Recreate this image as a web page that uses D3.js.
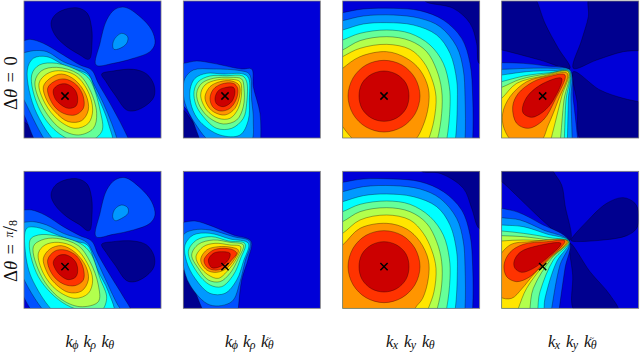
<!DOCTYPE html>
<html>
<head>
<meta charset="utf-8">
<script src="https://cdn.jsdelivr.net/npm/d3@7"></script>
<style>
  html, body { margin: 0; padding: 0; background: #fff; }
  svg { display: block; }
  text { font-family: "Liberation Serif", serif; fill: #111; }
</style>
</head>
<body>
<svg></svg>
<script>
const width = 640;
const height = 352;

// jet-like contour bands, lowest first
const levelColors = ['#00008f', '#0000d8', '#0050ff', '#0099ff', '#00ffff', '#66ff99', '#b2ff4d', '#ffe600', '#ff9500', '#ff3300', '#cc0000'];

const rowLabels = ['0', 'π/8'];
const colLabels = [
  [['k', 'ϕ', false], ['k', 'ρ', false], ['k', 'θ', false]],
  [['k', 'ϕ', false], ['k', 'ρ', false], ['k', 'θ', true]],
  [['k', 'x', false], ['k', 'y', false], ['k', 'θ', false]],
  [['k', 'x', false], ['k', 'y', false], ['k', 'θ', true]]
];

// each panel was read in its own window of 411 units
const xWindows = [72, 40, 38, 35];
const yWindows = [3, 19];
const columnLeft = [24, 183.33, 342.67, 501.67];
const rowTop = [1, 171.33];
const panelSize = 137;
const peaks = [
  [195, 288], [165, 288], [162, 288], [158, 288],
  [195, 305], [165, 305], [162, 305], [158, 305]
];

// [level, outline] pairs, painted in order on top of level 1
const panelA0 = [
  [0, [[153,70],[165,45],[195,28],[235,24],[262,40],[275,85],[276,130],[270,175],[262,178],[240,165],[200,140],[165,105]]],
  [0, [[305,222],[340,213],[400,208],[440,222],[462,255],[462,290],[440,315],[405,332],[380,330],[345,285],[318,245]]],
  [0, [[50,350],[72,365],[95,385],[115,420],[50,430]]],
  [2, [[288,195],[300,130],[320,60],[345,28],[375,22],[420,50],[455,90],[465,130],[450,155],[400,175],[340,190]]],
  [3, [[338,135],[345,115],[365,100],[383,110],[380,130],[360,145],[342,148]]],
  [2, [[50,125],[72,122],[90,118],[130,130],[190,165],[240,195],[275,210],[295,250],[330,310],[370,385],[390,430],[400,480],[150,480],[72,345],[50,300]]],
  [3, [[50,160],[72,158],[100,152],[140,155],[190,185],[260,215],[280,250],[310,310],[335,370],[355,430],[365,480],[190,480],[72,300],[50,250]]],
  [4, [[82,210],[100,175],[140,170],[200,200],[265,225],[285,270],[325,370],[335,440],[200,450],[110,340]]],
  [5, [[95,225],[118,195],[170,190],[240,215],[270,240],[300,330],[305,395],[250,430],[170,395],[115,320]]],
  [6, [[105,245],[125,212],[170,202],[235,222],[270,270],[290,340],[280,385],[235,405],[180,385],[125,315]]],
  [7, [[117,250],[140,222],[175,212],[225,225],[262,270],[278,330],[265,370],[225,385],[175,360],[135,310]]],
  [8, [[130,260],[150,235],[185,222],[225,240],[258,285],[265,330],[245,362],[205,365],[165,335],[140,300]]],
  [9, [[143,265],[165,243],[195,237],[230,255],[250,290],[250,325],[225,345],[190,340],[160,315]]],
  [10, [[160,270],[175,255],[200,252],[225,270],[233,295],[228,318],[205,325],[180,312],[165,295]]]
];

const panelB0 = [
  [0, [[20,325],[40,330],[60,355],[80,385],[95,425],[20,425]]],
  [2, [[20,190],[40,190],[80,183],[130,190],[215,207],[245,207],[250,260],[270,340],[272,430],[270,480],[130,480],[60,345],[40,318],[20,310]]],
  [3, [[45,235],[70,210],[130,207],[210,212],[238,222],[245,300],[250,360],[240,430],[130,430],[75,370],[45,310],[40,270]]],
  [4, [[60,270],[75,235],[110,220],[160,222],[220,222],[236,235],[238,300],[235,360],[210,405],[150,405],[90,365],[65,320]]],
  [5, [[72,275],[85,245],[120,228],[170,227],[218,228],[230,245],[230,310],[220,355],[185,385],[140,385],[100,350],[78,315]]],
  [6, [[80,280],[95,250],[130,235],[180,232],[215,237],[222,265],[220,320],[200,360],[160,372],[120,355],[90,320]]],
  [7, [[92,285],[105,255],[140,240],[185,238],[210,245],[215,275],[205,325],[180,355],[145,355],[110,330]]],
  [8, [[105,290],[120,260],[150,245],[185,243],[207,255],[210,280],[195,325],[165,345],[130,335],[112,315]]],
  [9, [[120,295],[130,268],[155,252],[190,250],[203,265],[200,295],[180,325],[150,333],[128,320]]],
  [10, [[135,295],[145,272],[165,263],[190,262],[195,275],[185,305],[160,320],[140,312]]]
];

const panelC0 = [
  [0, [[285,3],[370,25],[420,70],[440,130],[447,190],[465,190],[465,-15],[285,-15]]],
  [2, [[-20,50],[38,38],[100,27],[190,25],[270,32],[340,60],[395,115],[420,190],[428,290],[428,420],[420,500],[-20,500]]],
  [3, [[-20,75],[38,62],[100,48],[190,45],[270,55],[330,80],[380,140],[400,210],[405,290],[405,420],[395,500],[-20,500]]],
  [4, [[-20,105],[38,90],[100,72],[170,68],[250,75],[320,105],[360,160],[380,240],[382,300],[376,420],[360,500],[-20,500]]],
  [5, [[-20,140],[38,120],[90,100],[170,90],[240,100],[300,135],[340,190],[358,260],[360,320],[350,420],[330,500],[-20,500]]],
  [6, [[-20,175],[38,150],[90,122],[170,110],[240,122],[290,155],[320,210],[335,270],[335,340],[322,420],[295,500],[-20,500]]],
  [7, [[-20,205],[38,170],[90,145],[170,133],[240,148],[280,185],[305,235],[318,290],[312,360],[295,420],[260,500],[-20,500]]],
  [8, [[0,240],[38,205],[90,170],[170,155],[230,175],[270,210],[295,265],[295,320],[278,380],[255,420],[200,450],[100,440],[38,380],[0,300]]],
  [9, [[162,181],[216,195],[255,234],[270,288],[255,342],[216,381],[162,396],[108,381],[69,342],[54,288],[69,234],[108,195]]],
  [10, [[162,213],[200,223],[228,250],[237,288],[228,326],[200,354],[162,364],[124,354],[96,326],[87,288],[96,250],[124,223]]]
];

const panelD0 = [
  [0, [[20,-10],[130,-10],[140,3],[165,70],[205,145],[240,205],[150,180],[35,150],[20,148]]],
  [0, [[300,-10],[465,-10],[465,152],[445,152],[400,155],[320,180],[250,205],[275,120],[295,50]]],
  [0, [[250,215],[330,270],[400,295],[445,305],[465,310],[465,430],[278,430],[262,310]]],
  [2, [[-20,188],[35,188],[100,190],[170,198],[238,210],[250,300],[264,430],[268,500],[-20,500]]],
  [3, [[-20,208],[35,208],[110,205],[190,205],[240,210],[243,300],[247,430],[250,500],[-20,500]]],
  [4, [[-20,230],[35,225],[110,215],[190,212],[238,212],[235,300],[232,430],[230,500],[-20,500]]],
  [5, [[-20,255],[35,245],[100,228],[180,218],[238,214],[228,300],[222,430],[215,500],[-20,500]]],
  [6, [[-20,280],[35,262],[90,238],[170,222],[236,215],[222,300],[210,430],[200,500],[-20,500]]],
  [7, [[-20,340],[35,295],[80,250],[160,228],[235,216],[215,290],[195,370],[180,430],[165,500],[-20,500]]],
  [8, [[38,340],[60,290],[110,245],[170,228],[232,220],[205,300],[175,375],[150,425],[70,425],[42,385]]],
  [9, [[68,320],[85,280],[130,245],[175,230],[225,225],[195,300],[160,360],[115,385],[80,370]]],
  [10, [[98,320],[115,285],[160,250],[215,235],[190,300],[160,335],[125,352],[100,340]]]
];

const panelA1 = [
  [0, [[153,90],[165,62],[195,45],[235,42],[262,58],[275,100],[276,150],[270,195],[262,197],[240,180],[200,155],[165,120]]],
  [0, [[305,238],[340,230],[400,228],[440,240],[462,272],[462,305],[440,332],[405,350],[380,347],[345,300],[318,262]]],
  [2, [[288,215],[300,145],[320,75],[345,45],[375,38],[420,68],[455,110],[465,150],[450,175],[400,195],[340,208]]],
  [3, [[338,155],[345,132],[365,120],[383,128],[384,145],[365,160],[345,167]]],
  [2, [[50,138],[72,135],[95,135],[135,150],[190,185],[240,212],[275,228],[295,270],[330,330],[370,395],[395,440],[400,490],[150,490],[50,340]]],
  [3, [[50,175],[72,172],[100,170],[140,180],[190,205],[260,232],[280,265],[315,340],[350,414],[365,440],[375,490],[190,490],[50,290]]],
  [4, [[80,190],[110,187],[160,205],[220,228],[262,240],[290,310],[325,380],[340,450],[190,460],[100,350],[76,260]]],
  [5, [[90,225],[115,210],[165,212],[240,235],[272,265],[300,340],[320,400],[300,440],[200,420],[115,335]]],
  [6, [[100,245],[125,225],[170,220],[235,242],[270,290],[295,360],[295,410],[240,425],[180,400],[125,335]]],
  [7, [[115,265],[135,240],[175,232],[225,248],[262,295],[278,345],[265,385],[225,400],[170,375],[130,325]]],
  [8, [[130,280],[150,252],[185,242],[225,262],[258,305],[265,345],[245,378],[205,382],[160,350],[138,315]]],
  [9, [[143,285],[165,258],[195,255],[230,273],[250,310],[250,345],[225,362],[190,357],[158,330]]],
  [10, [[160,290],[175,272],[200,270],[225,288],[233,312],[228,335],[205,344],[180,330],[165,310]]]
];

const panelB1 = [
  [0, [[20,310],[40,315],[60,345],[80,375],[95,430],[20,430]]],
  [2, [[20,175],[40,172],[75,168],[130,185],[190,210],[243,228],[235,280],[215,345],[205,430],[200,480],[130,480],[60,340],[40,300],[20,290]]],
  [3, [[40,210],[70,195],[120,195],[190,215],[240,230],[225,290],[210,350],[185,410],[120,420],[60,360],[38,290]]],
  [4, [[45,240],[70,210],[120,205],[180,222],[235,235],[220,290],[200,345],[165,385],[120,385],[75,340],[50,290]]],
  [5, [[55,260],[80,225],[125,215],[175,228],[225,236],[212,280],[190,330],[155,365],[120,360],[80,320]]],
  [6, [[65,270],[85,238],[130,225],[180,232],[220,240],[205,280],[180,325],[150,350],[115,345],[85,310]]],
  [7, [[78,275],[100,245],[135,235],[180,240],[212,245],[200,280],[175,315],[145,340],[115,330],[90,305]]],
  [8, [[92,285],[110,255],[145,245],[185,247],[205,255],[195,280],[170,310],[140,322],[110,315]]],
  [9, [[102,285],[125,258],[155,250],[190,255],[200,265],[185,285],[160,310],[130,315],[110,305]]],
  [10, [[115,285],[130,265],[155,260],[180,265],[175,285],[150,305],[125,308]]]
];

const panelC1 = [
  [0, [[275,19],[330,25],[400,70],[425,130],[447,190],[465,190],[465,0],[275,0]]],
  [2, [[-20,62],[38,52],[100,42],[190,42],[270,50],[340,80],[395,135],[420,210],[428,305],[428,430],[420,510],[-20,510]]],
  [3, [[-20,92],[38,80],[100,65],[190,62],[270,72],[330,100],[380,160],[400,230],[405,305],[405,430],[395,510],[-20,510]]],
  [4, [[-20,125],[38,110],[100,92],[170,87],[250,95],[320,125],[360,180],[380,260],[382,320],[376,430],[360,510],[-20,510]]],
  [5, [[-20,160],[38,140],[90,118],[170,108],[240,118],[300,155],[340,210],[358,280],[360,340],[350,430],[330,510],[-20,510]]],
  [6, [[-20,195],[38,170],[90,140],[170,128],[240,140],[290,175],[320,230],[335,290],[335,360],[322,430],[295,510],[-20,510]]],
  [7, [[-20,240],[38,205],[90,165],[170,150],[240,165],[280,205],[305,255],[318,310],[312,380],[295,430],[260,510],[-20,510]]],
  [8, [[-20,285],[38,240],[90,190],[170,175],[230,192],[270,230],[295,285],[295,340],[278,400],[255,430],[215,510],[-20,510]]],
  [9, [[162,197],[216,211],[255,250],[270,305],[255,359],[216,398],[162,413],[108,398],[69,359],[54,305],[69,250],[108,211]]],
  [10, [[162,230],[200,240],[228,267],[237,305],[228,343],[200,371],[162,381],[124,371],[96,343],[87,305],[96,267],[124,240]]]
];

const panelD1 = [
  [0, [[20,0],[185,0],[190,19],[215,60],[225,120],[240,225],[35,50],[20,40]]],
  [0, [[243,225],[290,170],[350,115],[400,98],[435,115],[447,150],[440,190],[410,212],[340,225],[245,228]]],
  [0, [[240,235],[300,320],[360,390],[385,440],[255,440],[248,330]]],
  [2, [[-20,118],[35,130],[85,142],[150,175],[238,228],[225,310],[208,430],[200,500],[-20,500]]],
  [3, [[-20,148],[35,158],[90,165],[160,195],[238,229],[210,300],[185,430],[175,500],[-20,500]]],
  [4, [[-20,175],[35,180],[100,185],[170,207],[238,229],[200,290],[165,400],[150,500],[-20,500]]],
  [5, [[-20,195],[35,198],[100,205],[180,218],[238,230],[190,285],[150,380],[125,500],[-20,500]]],
  [6, [[-20,210],[35,212],[100,215],[180,225],[236,230],[185,280],[130,370],[100,500],[-20,500]]],
  [7, [[-20,235],[35,228],[100,225],[180,228],[235,230],[175,285],[110,370],[85,430],[60,500],[-20,500]]],
  [8, [[20,290],[60,240],[120,230],[232,228],[185,275],[130,330],[95,372],[65,400],[30,395],[15,345]]],
  [9, [[42,300],[60,262],[100,238],[170,230],[225,228],[165,290],[120,335],[80,350],[50,335]]],
  [10, [[72,290],[90,262],[140,243],[213,235],[170,280],[130,310],[95,322],[75,310]]]
];

const panels = [panelA0, panelB0, panelC0, panelD0, panelA1, panelB1, panelC1, panelD1];

const svg = d3.select('svg').attr('width', width).attr('height', height);
const defs = svg.append('defs');

panels.forEach((outlines, i) => {
  const col = i % 4;
  const row = Math.floor(i / 4);
  const x = d3.scaleLinear()
      .domain([xWindows[col], xWindows[col] + 411])
      .range([columnLeft[col], columnLeft[col] + panelSize]);
  const y = d3.scaleLinear()
      .domain([yWindows[row], yWindows[row] + 411])
      .range([rowTop[row], rowTop[row] + panelSize]);
  const line = d3.line()
      .x(d => x(d[0]))
      .y(d => y(d[1]))
      .curve(d3.curveCatmullRomClosed.alpha(0.5));

  defs.append('clipPath').attr('id', 'clip' + i)
    .append('rect')
      .attr('x', columnLeft[col]).attr('y', rowTop[row])
      .attr('width', panelSize).attr('height', panelSize);

  const g = svg.append('g').attr('clip-path', 'url(#clip' + i + ')');
  g.append('rect')
      .attr('x', columnLeft[col]).attr('y', rowTop[row])
      .attr('width', panelSize).attr('height', panelSize)
      .attr('fill', levelColors[1]);
  g.selectAll('.band')
      .data(outlines)
    .enter().append('path')
      .attr('class', 'band')
      .attr('d', d => line(d[1]))
      .attr('fill', d => levelColors[d[0]])
      .attr('stroke', '#000')
      .attr('stroke-opacity', 0.55)
      .attr('stroke-width', 0.6);

  svg.append('rect')
      .attr('x', columnLeft[col]).attr('y', rowTop[row])
      .attr('width', panelSize).attr('height', panelSize)
      .attr('fill', 'none')
      .attr('stroke', '#777')
      .attr('stroke-width', 0.8);

  svg.append('path')
      .attr('d', d3.symbol(d3.symbolTimes, 36)())
      .attr('transform', 'translate(' + x(peaks[i][0]) + ',' + y(peaks[i][1]) + ')')
      .attr('fill', 'none')
      .attr('stroke', '#000')
      .attr('stroke-width', 1.5);
});

// column captions
const captionLeft = [65.5, 225, 386, 548];
const captionBase = 347;
colLabels.forEach((parts, c) => {
  parts.forEach((p, j) => {
    const t = svg.append('text')
        .attr('x', captionLeft[c] + j * 18)
        .attr('y', captionBase)
        .attr('font-family', '"DejaVu Serif", serif')
        .attr('font-size', 16.5)
        .attr('font-style', 'italic');
    t.append('tspan').text(p[0]);
    t.append('tspan')
        .attr('dx', -0.5)
        .attr('dy', 2)
        .attr('font-size', 12)
        .text(p[1]);
    if (p[2]) {
      // tilde over the theta, in the same text so it stays with its subscript
      t.append('tspan')
          .attr('dx', -7)
          .attr('dy', -8)
          .attr('font-size', 8)
          .attr('font-style', 'normal')
          .text('~');
    }
  });
});

// row captions
const rowCaptionY = [110, 282];
rowLabels.forEach((label, r) => {
  const t = svg.append('text')
      .attr('transform', 'translate(16.5,' + rowCaptionY[r] + ') rotate(-90)')
      .attr('font-size', 18.5);
  t.append('tspan').text('Δ');
  t.append('tspan').attr('font-style', 'italic').text('θ');
  t.append('tspan').attr('dx', 6.5).text('=');
  if (r === 0) {
    t.append('tspan').attr('dx', 6.5).text(label);
  } else {
    const parts = label.split('/');
    t.append('tspan').attr('dx', 6.5).attr('dy', -4).attr('font-size', 12).attr('font-style', 'italic').text(parts[0]);
    t.append('tspan').attr('dy', 4).attr('font-size', 20).text('/');
    t.append('tspan').attr('font-size', 12).text(parts[1]);
  }
});
</script>
</body>
</html>
